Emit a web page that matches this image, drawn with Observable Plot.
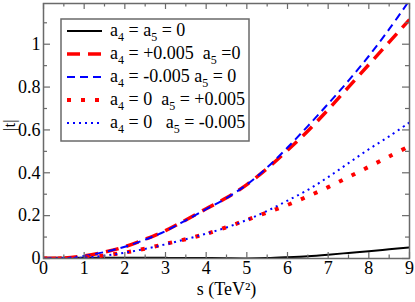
<!DOCTYPE html>
<html>
<head>
<meta charset="utf-8">
<script src="https://cdn.jsdelivr.net/npm/d3@7"></script>
<script src="https://cdn.jsdelivr.net/npm/@observablehq/plot@0.6"></script>
<style>
  html, body { margin: 0; padding: 0; background: white; }
</style>
</head>
<body>
<div id="chart"></div>
<script>
// ---- data ----
const s = [0,0.5,1,1.5,2,2.5,3,3.5,4,4.5,5,5.5,6,6.5,7,7.5,8,8.5,9];
const zeroZero   = [0.004,0.004,0.004,0.004,0.004,0.003,0.003,0.002,0.002,0.001,0.0005,0.002,0.006,0.011,0.018,0.026,0.034,0.043,0.052];
const a4Plus     = [0,0.002,0.012,0.03,0.055,0.09,0.13,0.18,0.232,0.283,0.345,0.42,0.505,0.595,0.695,0.80,0.905,1.01,1.115];
const a4Minus    = [0,0.002,0.012,0.03,0.055,0.088,0.128,0.178,0.23,0.282,0.345,0.425,0.518,0.618,0.722,0.83,0.945,1.07,1.205];
const a5Plus     = [0,0.001,0.005,0.014,0.028,0.046,0.068,0.09,0.115,0.146,0.18,0.215,0.25,0.29,0.333,0.38,0.428,0.476,0.525];
const a5Minus    = [0,0.001,0.004,0.013,0.027,0.045,0.066,0.09,0.116,0.145,0.18,0.222,0.27,0.32,0.38,0.445,0.51,0.57,0.635];

const xTicks = [0,1,2,3,4,5,6,7,8,9];
const xMinor = [0.5,1.5,2.5,3.5,4.5,5.5,6.5,7.5,8.5];
const yTicks = [0,0.2,0.4,0.6,0.8,1];
const yMinor = [0.1,0.3,0.5,0.7,0.9,1.1];
const xLabel = "s (TeV²)";
const yLabel = "|t|";

const seriesDefs = [
  {key: "zz", values: zeroZero, stroke: "black", width: 2, dash: null,
   parts: [["a",""],["4","sub"],[" = a",""],["5","sub"],[" = 0",""]]},
  {key: "p4", values: a4Plus, stroke: "#ff0000", width: 3.5, dash: "13,8",
   parts: [["a",""],["4","sub"],[" = +0.005\u00A0\u00A0a",""],["5","sub"],[" =0",""]]},
  {key: "m4", values: a4Minus, stroke: "#0000ff", width: 2, dash: "8,5",
   parts: [["a",""],["4","sub"],[" = -0.005 a",""],["5","sub"],[" = 0",""]]},
  {key: "p5", values: a5Plus, stroke: "#ff0000", width: 4, dash: "4,10",
   parts: [["a",""],["4","sub"],[" = 0\u00A0\u00A0a",""],["5","sub"],[" = +0.005",""]]},
  {key: "m5", values: a5Minus, stroke: "#0000ff", width: 2, dash: "2,4",
   parts: [["a",""],["4","sub"],[" = 0\u00A0\u00A0\u00A0a",""],["5","sub"],[" = -0.005",""]]}
];

const W = 415, H = 302;
const mL = 43, mR = 6, mT = 3, mB = 44;
const plotH = H - mT - mB, plotW = W - mL - mR;
const frameColor = "#6a6a6a";
const serif = "Liberation Serif";

const lineMarks = seriesDefs.map(d =>
  Plot.line(s.map((x, i) => ({x, y: d.values[i]})), {
    x: "x", y: "y", stroke: d.stroke, strokeWidth: d.width,
    strokeDasharray: d.dash ?? undefined, curve: "catmull-rom", clip: true,
    strokeLinecap: "butt"
  })
);

const chart = Plot.plot({
  width: W, height: H,
  marginLeft: mL, marginRight: mR, marginTop: mT, marginBottom: mB,
  style: {fontFamily: serif, fontSize: "18px", background: "white", color: "black"},
  x: {domain: [0, 9]},
  y: {domain: [0, 1.19]},
  marks: [
    ...lineMarks,
    Plot.tickX(xTicks, {x: d => d, insetTop: plotH - 6, stroke: frameColor, strokeWidth: 1.2}),
    Plot.tickX(xMinor, {x: d => d, insetTop: plotH - 3.5, stroke: frameColor, strokeWidth: 1.2}),
    Plot.tickX(xTicks, {x: d => d, insetBottom: plotH - 6, stroke: frameColor, strokeWidth: 1.2}),
    Plot.tickX(xMinor, {x: d => d, insetBottom: plotH - 3.5, stroke: frameColor, strokeWidth: 1.2}),
    Plot.tickY(yTicks, {y: d => d, insetRight: plotW - 7, stroke: frameColor, strokeWidth: 1.2}),
    Plot.tickY(yMinor, {y: d => d, insetRight: plotW - 4, stroke: frameColor, strokeWidth: 1.2}),
    Plot.tickY(yTicks, {y: d => d, insetLeft: plotW - 7, stroke: frameColor, strokeWidth: 1.2}),
    Plot.tickY(yMinor, {y: d => d, insetLeft: plotW - 4, stroke: frameColor, strokeWidth: 1.2}),
    Plot.frame({stroke: frameColor, strokeWidth: 1.5}),
    Plot.axisX({ticks: xTicks, tickSize: 0, tickPadding: 3, label: null, tickFormat: d => String(d), fill: "black", fontFamily: serif}),
    Plot.axisY({ticks: yTicks, tickSize: 0, tickPadding: 3, label: null, tickFormat: d => String(+d.toFixed(1)), fill: "black", fontFamily: serif}),
    Plot.text([xLabel], {text: d => d, frameAnchor: "bottom", dy: 36, fontSize: 18, fill: "black", fontFamily: serif}),
    Plot.text([yLabel], {text: d => d, frameAnchor: "left", dx: -34, rotate: -90, fontSize: 17, fill: "black", fontFamily: serif})
  ]
});

document.getElementById("chart").appendChild(chart);

// ---- legend box (inside plot, top-left) ----
const svg = d3.select(chart);
const lg = svg.append("g").attr("class", "legend").attr("text-anchor", "start");
const box = {x: 61, y: 19, w: 188, h: 122};
lg.append("rect").attr("x", box.x).attr("y", box.y).attr("width", box.w).attr("height", box.h)
  .attr("fill", "white").attr("stroke", frameColor).attr("stroke-width", 1.5);
const rowY0 = 31, rowStep = 23;
seriesDefs.forEach((d, i) => {
  const y = rowY0 + i * rowStep;
  lg.append("line").attr("x1", 67).attr("x2", 102).attr("y1", y).attr("y2", y)
    .attr("stroke", d.stroke).attr("stroke-width", d.width)
    .attr("stroke-dasharray", d.dash).attr("stroke-linecap", "butt");
  const t = lg.append("text").attr("x", 110).attr("y", y + 5)
    .attr("text-anchor", "start")
    .attr("font-family", serif).attr("font-size", 18).attr("fill", "black");
  let shifted = false;
  d.parts.forEach(([txt, kind]) => {
    const sp = t.append("tspan").text(txt);
    if (kind === "sub") {
      sp.attr("font-size", 12).attr("dy", 5);
      shifted = true;
    } else if (shifted) {
      sp.attr("dy", -5);
      shifted = false;
    }
  });
});
</script>
</body>
</html>
